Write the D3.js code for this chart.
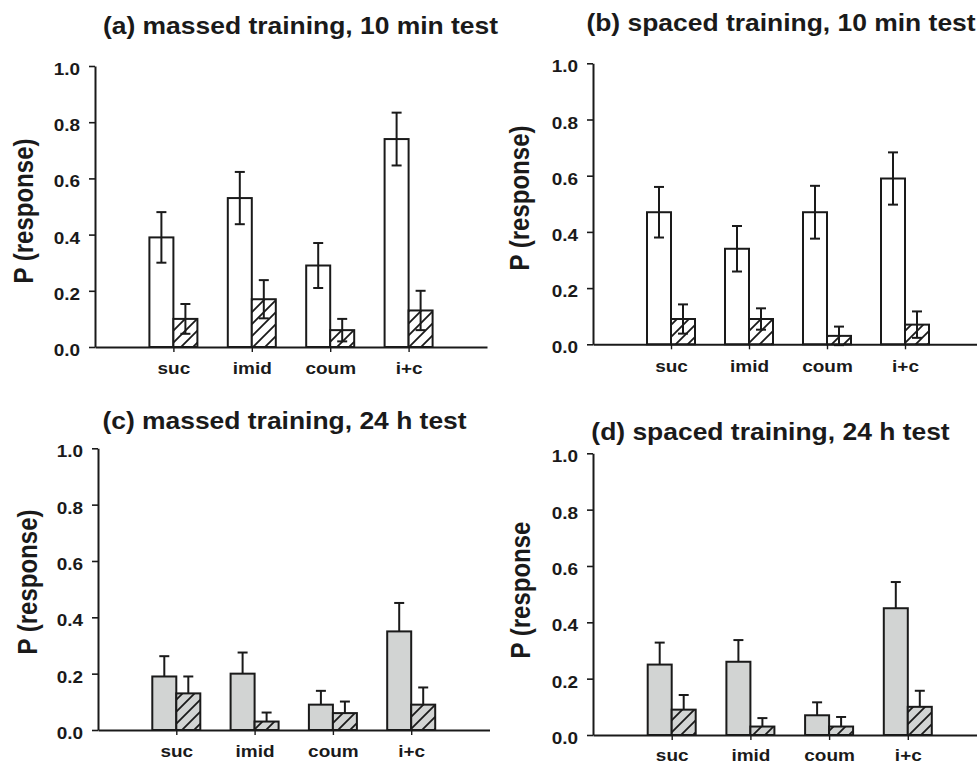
<!DOCTYPE html>
<html>
<head>
<meta charset="utf-8">
<script src="https://cdn.jsdelivr.net/npm/d3@7/dist/d3.min.js"></script>
<style>
  html, body { margin: 0; padding: 0; background: #fff; }
  svg { display: block; }
  text { font-family: "Liberation Sans", Arial, Helvetica, sans-serif; font-weight: bold; fill: #1a1a1a; }
</style>
</head>
<body>
<svg id="chart" width="977" height="764"></svg>
<script>
// Test substances on the x axis
const categories = ["suc", "imid", "coum", "i+c"];
const yTicks = [0, 0.2, 0.4, 0.6, 0.8, 1.0];

// (a) massed training, 10 min test
const massed10Plain = [0.39, 0.53, 0.29, 0.74];
const massed10PlainErr = [0.09, 0.093, 0.08, 0.094];
const massed10Hatch = [0.10, 0.17, 0.06, 0.13];
const massed10HatchErr = [0.053, 0.068, 0.04, 0.07];

// (b) spaced training, 10 min test
const spaced10Plain = [0.47, 0.34, 0.47, 0.59];
const spaced10PlainErr = [0.09, 0.081, 0.094, 0.093];
const spaced10Hatch = [0.09, 0.09, 0.03, 0.07];
const spaced10HatchErr = [0.052, 0.038, 0.033, 0.047];

// (c) massed training, 24 h test
const massed24Plain = [0.19, 0.20, 0.09, 0.35];
const massed24PlainErr = [0.072, 0.075, 0.049, 0.101];
const massed24Hatch = [0.13, 0.03, 0.06, 0.09];
const massed24HatchErr = [0.06, 0.032, 0.041, 0.061];

// (d) spaced training, 24 h test
const spaced24Plain = [0.25, 0.26, 0.07, 0.45];
const spaced24PlainErr = [0.078, 0.077, 0.046, 0.093];
const spaced24Hatch = [0.09, 0.03, 0.03, 0.10];
const spaced24HatchErr = [0.052, 0.03, 0.034, 0.057];

const panelTitles = [
  "(a) massed training, 10 min test",
  "(b) spaced training, 10 min test",
  "(c) massed training, 24 h test",
  "(d) spaced training, 24 h test"
];
const yLabels = ["P (response)", "P (response)", "P (response)", "P (response"];

// Panel geometry and styling
const GRAY = "#d2d4d3";
const INK = "#1a1a1a";
const SX = 1.15; // horizontal stretch of lettering
const layout = [
  { ax: 95,  y0: 347,   y1: 66,    step: 78.4, title: [300.5, 34], ylab: [33, 211],  xlab: 374, fill: "#fff", bothErr: true },
  { ax: 593, y0: 344.3, y1: 63.3,  step: 78.0, title: [781, 31],   ylab: [529, 198], xlab: 372, fill: "#fff", bothErr: true },
  { ax: 98,  y0: 730,   y1: 448.3, step: 78.3, title: [284.5, 429],ylab: [37, 582],  xlab: 757, fill: GRAY,   bothErr: false },
  { ax: 593, y0: 735,   y1: 453.3, step: 78.7, title: [770.5, 440],ylab: [530, 590], xlab: 761, fill: GRAY,   bothErr: false }
];
const series = [
  [massed10Plain, massed10PlainErr, massed10Hatch, massed10HatchErr],
  [spaced10Plain, spaced10PlainErr, spaced10Hatch, spaced10HatchErr],
  [massed24Plain, massed24PlainErr, massed24Hatch, massed24HatchErr],
  [spaced24Plain, spaced24PlainErr, spaced24Hatch, spaced24HatchErr]
];

const svg = d3.select("#chart");
svg.append("rect").attr("width", 977).attr("height", 764).attr("fill", "#fff");

// Diagonal hatch patterns on white and grey grounds
const defs = svg.append("defs");
[["hatch-white", "#fff"], ["hatch-gray", GRAY]].forEach(([id, bg]) => {
  const p = defs.append("pattern").attr("id", id)
    .attr("patternUnits", "userSpaceOnUse").attr("width", 12).attr("height", 12);
  p.append("rect").attr("width", 12).attr("height", 12).attr("fill", bg);
  p.append("path").attr("d", "M0,12 L12,0 M-3,3 L3,-3 M9,15 L15,9")
    .attr("stroke", INK).attr("stroke-width", 1.8);
});

const BAR_W = 24, CAP = 5;

layout.forEach((L, pi) => {
  const [plain, plainErr, hatch, hatchErr] = series[pi];
  const g = svg.append("g");

  const y = d3.scaleLinear().domain([0, 1]).range([L.y0, L.y1]);
  const x = d3.scaleLinear().domain([0, 5]).range([L.ax, L.ax + 5 * L.step]);

  // Title
  g.append("text")
    .attr("text-anchor", "middle")
    .attr("font-size", 23)
    .attr("transform", `translate(${L.title[0]},${L.title[1]}) scale(${SX},1)`)
    .text(panelTitles[pi]);

  // Y axis label
  g.append("text")
    .attr("text-anchor", "middle")
    .attr("font-size", 24)
    .attr("transform", `translate(${L.ylab[0]},${L.ylab[1]}) scale(${SX},1) rotate(-90)`)
    .text(yLabels[pi]);

  // Bars: plain (white or grey) and hatched
  const plainFill = L.fill;
  const hatchFill = L.fill === GRAY ? "url(#hatch-gray)" : "url(#hatch-white)";
  const bars = g.append("g");
  categories.forEach((c, i) => {
    const cx = x(i + 1);
    bars.append("rect")
      .attr("x", cx - BAR_W).attr("width", BAR_W)
      .attr("y", y(plain[i])).attr("height", y(0) - y(plain[i]))
      .attr("fill", plainFill).attr("stroke", INK).attr("stroke-width", 2);
    bars.append("rect")
      .attr("x", cx).attr("width", BAR_W)
      .attr("y", y(hatch[i])).attr("height", y(0) - y(hatch[i]))
      .attr("fill", hatchFill).attr("stroke", INK).attr("stroke-width", 2);
  });

  // Error bars
  const errs = g.append("g").attr("stroke", INK).attr("stroke-width", 2).attr("fill", "none");
  const drawErr = (ex, v, e) => {
    const top = y(v + e);
    const bot = L.bothErr ? y(v - e) : y(v);
    errs.append("line").attr("x1", ex).attr("x2", ex).attr("y1", top).attr("y2", bot);
    errs.append("line").attr("x1", ex - CAP).attr("x2", ex + CAP).attr("y1", top).attr("y2", top);
    if (L.bothErr) {
      errs.append("line").attr("x1", ex - CAP).attr("x2", ex + CAP).attr("y1", bot).attr("y2", bot);
    }
  };
  categories.forEach((c, i) => {
    const cx = x(i + 1);
    drawErr(cx - BAR_W / 2, plain[i], plainErr[i]);
    drawErr(cx + BAR_W / 2, hatch[i], hatchErr[i]);
  });

  // Y axis
  const yAxis = g.append("g")
    .attr("transform", `translate(${L.ax},0)`)
    .call(d3.axisLeft(y).tickValues(yTicks).tickFormat(d3.format(".1f"))
      .tickSize(6).tickSizeOuter(0));
  yAxis.attr("font-family", null).attr("font-size", null);
  yAxis.select(".domain").attr("stroke", INK).attr("stroke-width", 2);
  yAxis.selectAll(".tick line").attr("stroke", INK).attr("stroke-width", 1.6);
  yAxis.selectAll(".tick text")
    .attr("x", null).attr("dy", null)
    .style("font-size", "16.5px").attr("fill", INK)
    .attr("text-anchor", "end")
    .attr("transform", `translate(-15,8.5) scale(${SX},1)`);

  // X axis
  const xAxis = g.append("g")
    .attr("transform", `translate(0,${L.y0})`)
    .call(d3.axisBottom(x).tickValues([1, 2, 3, 4])
      .tickFormat(d => categories[d - 1]).tickSize(5).tickSizeOuter(0));
  xAxis.attr("font-family", null).attr("font-size", null);
  xAxis.select(".domain").attr("stroke", INK).attr("stroke-width", 2);
  xAxis.selectAll(".tick line").attr("stroke", INK).attr("stroke-width", 1.4);
  xAxis.selectAll(".tick text")
    .attr("y", null).attr("dy", null)
    .style("font-size", "16.5px").attr("fill", INK)
    .attr("text-anchor", "middle")
    .attr("transform", `translate(0,${L.xlab - L.y0}) scale(${SX},1)`);
});
</script>
</body>
</html>
